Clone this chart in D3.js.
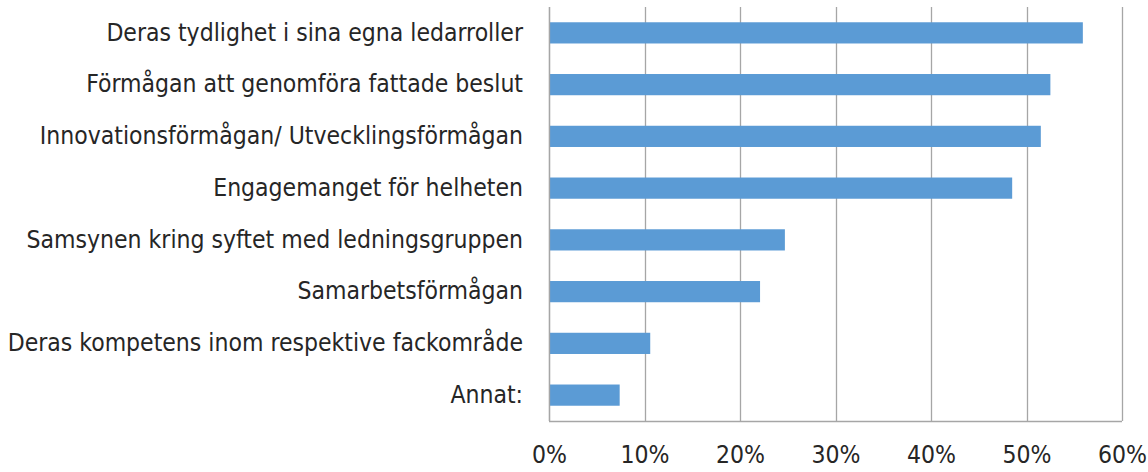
<!DOCTYPE html>
<html>
<head>
<meta charset="utf-8">
<script src="https://cdn.jsdelivr.net/npm/d3@7"></script>
<style>
  body { margin: 0; background: #fff; }
  text { font-family: "Liberation Sans Narrow", "DejaVu Sans Condensed", sans-serif; fill: #262626; }
</style>
</head>
<body>
<svg id="chart" width="1148" height="472"></svg>
<script>
'use strict';

// Kategorier och värden (andel svar)
const kategorier = [
    "Deras tydlighet i sina egna ledarroller",
    "Förmågan att genomföra fattade beslut",
    "Innovationsförmågan/ Utvecklingsförmågan",
    "Engagemanget för helheten",
    "Samsynen kring syftet med ledningsgruppen",
    "Samarbetsförmågan",
    "Deras kompetens inom respektive fackområde",
    "Annat:"
];
const andelar = [0.559, 0.525, 0.515, 0.485, 0.247, 0.221, 0.106, 0.074];
const tickVarden = [0, 0.1, 0.2, 0.3, 0.4, 0.5, 0.6];

const svg = d3.select("#chart");
const marg = {top: 7, right: 26, bottom: 51, left: 549};
const bredd = 1148 - marg.left - marg.right;
const hojd = 472 - marg.top - marg.bottom;
const typsnitt = '"Liberation Sans Narrow", "DejaVu Sans Condensed", sans-serif';

const g = svg.append("g").attr("transform", `translate(${marg.left},${marg.top})`);

const x = d3.scaleLinear().domain([0, 0.6]).range([0, bredd]);
const y = d3.scaleBand().domain(kategorier).range([0, hojd]).paddingInner(0.59).paddingOuter(0.295);

// Stödlinjer
g.selectAll(".grid")
    .data(tickVarden)
    .join("line")
    .attr("x1", d => Math.round(x(d)) + 0.5)
    .attr("x2", d => Math.round(x(d)) + 0.5)
    .attr("y1", 0)
    .attr("y2", hojd)
    .attr("stroke", "#a6a6a6")
    .attr("stroke-width", 1.3);

// Staplar
g.selectAll(".stapel")
    .data(kategorier)
    .join("rect")
    .attr("x", 0)
    .attr("y", d => y(d))
    .attr("width", (d, i) => x(andelar[i]))
    .attr("height", y.bandwidth())
    .attr("fill", "#5b9bd5");

// Nedre axellinje
g.append("line")
    .attr("x1", 0).attr("x2", bredd)
    .attr("y1", hojd + 0.5).attr("y2", hojd + 0.5)
    .attr("stroke", "#a6a6a6").attr("stroke-width", 1.3);

// X-axel
const xAxel = d3.axisBottom(x).tickValues(tickVarden).tickFormat(d3.format(".0%")).tickSize(0).tickPadding(25);
g.append("g")
    .attr("transform", `translate(0,${hojd})`)
    .call(xAxel)
    .call(ax => ax.select(".domain").remove())
    .selectAll("text")
    .attr("font-size", 24.5)
    .style("font-family", typsnitt)
    .attr("fill", "#262626");

// Y-axel (kategorier)
const yAxel = d3.axisLeft(y).tickSize(0).tickPadding(26);
g.append("g")
    .call(yAxel)
    .call(ax => ax.select(".domain").remove())
    .selectAll("text")
    .attr("font-size", 24.5)
    .style("font-family", typsnitt)
    .attr("fill", "#262626");

// Vänster axellinje
g.append("line")
    .attr("x1", 0.5).attr("x2", 0.5)
    .attr("y1", 0).attr("y2", hojd)
    .attr("stroke", "#a6a6a6").attr("stroke-width", 1.3);
</script>
</body>
</html>
